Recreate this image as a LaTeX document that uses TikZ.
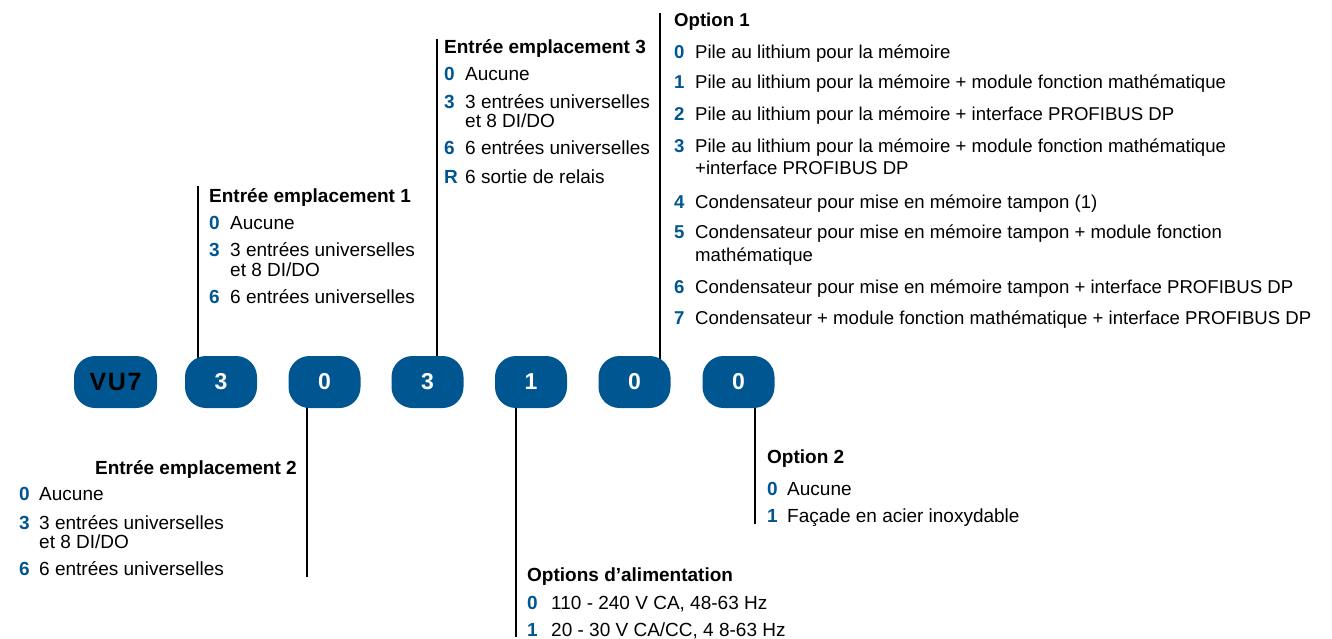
\documentclass[tikz,border=0pt]{standalone}
\usepackage{fontspec}
\setmainfont{Liberation Sans}
\usetikzlibrary{backgrounds}
\definecolor{codeblue}{RGB}{0,86,145}
\tikzset{
  pill/.style={fill=codeblue, rounded corners=21pt, minimum width=72pt, minimum height=52pt,
    inner sep=0pt, text=white, font=\fontsize{23}{23}\selectfont\bfseries},
  ttl/.style={anchor=base west, inner sep=0pt, font=\fontsize{19}{20}\selectfont\bfseries},
  num/.style={anchor=base west, inner sep=0pt, text=codeblue, font=\fontsize{19}{20}\selectfont\bfseries},
  txt/.style={anchor=base west, inner sep=0pt, font=\fontsize{19}{20}\selectfont},
  opt/.style={font=\fontsize{18.6}{20}\selectfont},
  stem/.style={line width=2.2pt}
}
\begin{document}
\begin{tikzpicture}[x=1pt,y=-1pt]
\useasboundingbox (0,0) rectangle (1332,639);
% the code
\node[pill, minimum width=83pt, text=black, font=\fontsize{25}{25}\selectfont\bfseries] (vu) at (115.5,382) {V\kern1.6pt U\kern1.6pt 7};
\foreach \i/\d/\x in {1/3/221,2/0/324.5,3/3/427.5,4/1/531,5/0/634.5,6/0/738.5}
	\node[pill] (p\i) at (\x,382) {\d};

\coordinate (s1) at (198,186);
\coordinate (s3) at (437,39);
\coordinate (o1) at (660,13);
\coordinate (s2) at (307,577);
\coordinate (al) at (516,637);
\coordinate (o2) at (755,524);
\begin{scope}[on background layer]
	\draw[stem] (s1) -- (s1 |- p1.center);
	\draw[stem] (s3) -- (s3 |- p3.center);
	\draw[stem] (o1) -- (o1 |- p5.center);
	\draw[stem] (s2) -- (s2 |- p2.center);
	\draw[stem] (al) -- (al |- p4.center);
	\draw[stem] (o2) -- (o2 |- p6.center);
\end{scope}

% Entree emplacement 1
\node[ttl] (s1t) at (209,202) {Entrée emplacement 1};
\foreach \n/\t/\y in {0/Aucune/229, 3/3 entrées universelles/256, /{et 8 DI/DO}/276, 6/6 entrées universelles/303}
	{\node[num] (s1n\y) at (209,\y) {\n}; \node[txt] (s1x\y) at (230,\y) {\t};}

% Entree emplacement 3
\node[ttl] (s3t) at (444,54) {Entrée emplacement 3};
\foreach \n/\t/\y in {0/Aucune/81, 3/3 entrées universelles/109, /{et 8 DI/DO}/128, 6/6 entrées universelles/155, R/6 sortie de relais/184}
	{\node[num] (s3n\y) at (444,\y) {\n}; \node[txt] (s3x\y) at (465,\y) {\t};}

% Option 1
\node[ttl, opt] (o1t) at (674,27) {\bfseries Option 1};
\foreach \n/\t/\y in {0/Pile au lithium pour la mémoire/59,
	1/Pile au lithium pour la mémoire + module fonction mathématique/89,
	2/Pile au lithium pour la mémoire + interface PROFIBUS DP/121,
	3/Pile au lithium pour la mémoire + module fonction mathématique/153,
	/+interface PROFIBUS DP/175,
	4/Condensateur pour mise en mémoire tampon (1)/208,
	5/Condensateur pour mise en mémoire tampon + module fonction/238,
	/mathématique/261,
	6/Condensateur pour mise en mémoire tampon + interface PROFIBUS DP/293,
	7/Condensateur + module fonction mathématique + interface PROFIBUS DP/324}
	{\node[num, opt] (o1n\y) at (674,\y) {\bfseries\n}; \node[txt, opt] (o1x\y) at (695,\y) {\t};}

% Entree emplacement 2
\node[ttl, anchor=base east] (s2t) at (297,474) {Entrée emplacement 2};
\foreach \n/\t/\y in {0/Aucune/500, 3/3 entrées universelles/529, /{et 8 DI/DO}/548, 6/6 entrées universelles/575}
	{\node[num] (s2n\y) at (19,\y) {\n}; \node[txt] (s2x\y) at (39,\y) {\t};}

% Options d'alimentation
\node[ttl] (alt) at (527,581) {Options d’alimentation};
\foreach \n/\t/\y in {0/{110 - 240 V CA, 48-63 Hz}/609, 1/{20 - 30 V CA/CC, 4 8-63 Hz}/636}
	{\node[num] (aln\y) at (527,\y) {\n}; \node[txt] (alx\y) at (551,\y) {\t};}

% Option 2
\node[ttl] (o2t) at (767,463) {Option 2};
\foreach \n/\t/\y in {0/Aucune/495, 1/Façade en acier inoxydable/522}
	{\node[num] (o2n\y) at (767,\y) {\n}; \node[txt] (o2x\y) at (787,\y) {\t};}

\end{tikzpicture}
\end{document}
